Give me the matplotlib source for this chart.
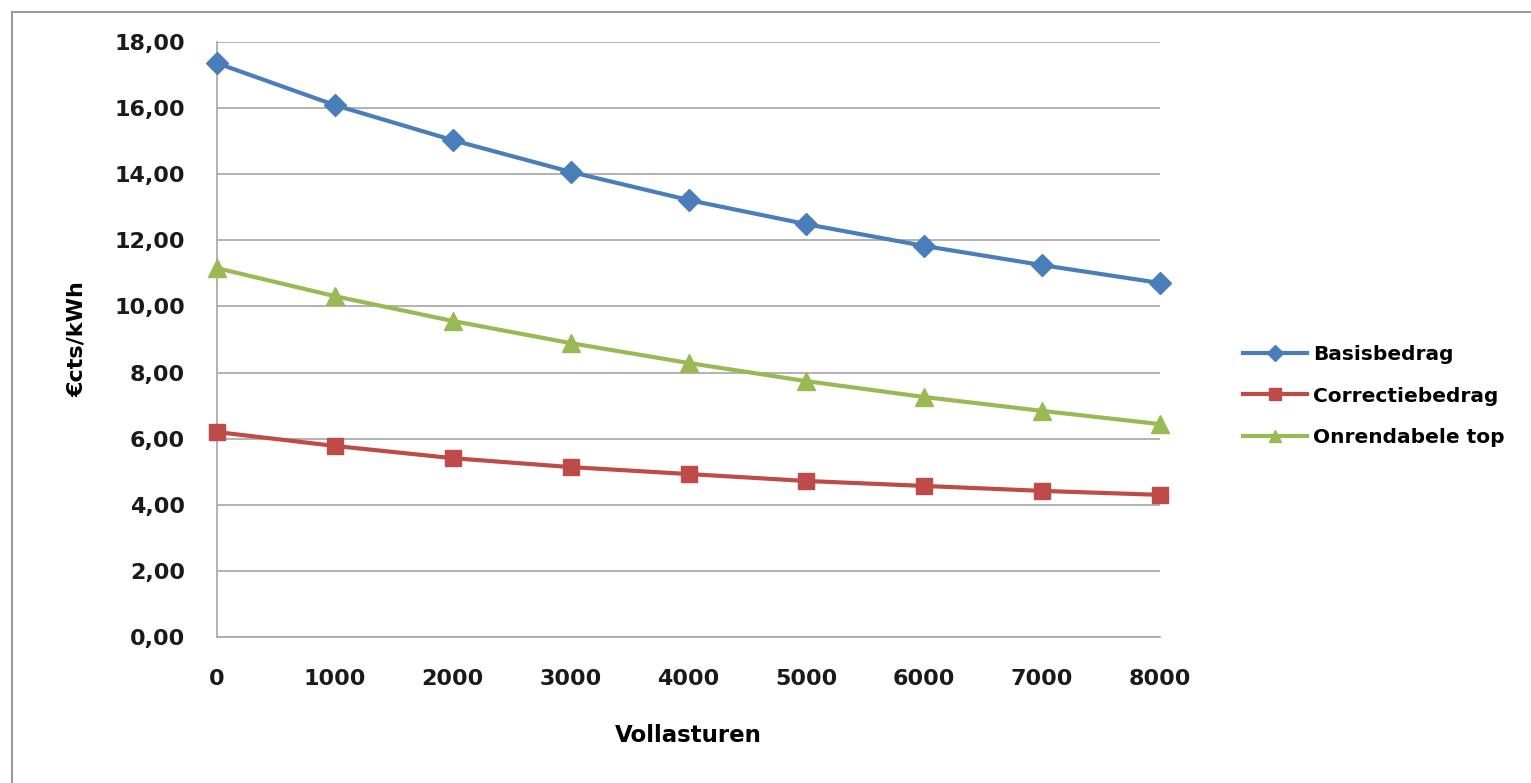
import matplotlib
matplotlib.use('Agg')
import matplotlib.pyplot as plt
from matplotlib.patches import Rectangle
from matplotlib.ticker import FuncFormatter

# values
vollasturen     = [0, 1000, 2000, 3000, 4000, 5000, 6000, 7000, 8000]
basisbedrag     = [17.36, 16.09, 15.03, 14.07, 13.22, 12.49, 11.83, 11.25, 10.71]
correctiebedrag = [6.20, 5.78, 5.41, 5.14, 4.93, 4.72, 4.57, 4.42, 4.30]
onrendabele_top = [11.16, 10.31, 9.56, 8.89, 8.29, 7.74, 7.26, 6.84, 6.44]
y_ticks         = [0, 2, 4, 6, 8, 10, 12, 14, 16, 18]

plt.rcParams['font.family'] = ['DejaVu Sans']
plt.rcParams['font.weight'] = 'bold'
FS = 16

fig = plt.figure(figsize=(15.31, 7.83), dpi=100)
fig.patches.append(Rectangle((12 / 1531, -0.1), 1.2, 1 - 12 / 783 + 0.1,
                             transform=fig.transFigure, fill=False,
                             edgecolor='#9a9a9a', lw=1.5))

ax = fig.add_axes([217 / 1531, 1 - 637 / 783, (1160 - 217) / 1531, (637 - 42) / 783])

ax.plot(vollasturen, basisbedrag, color='#4A7EBB', lw=3, marker='D', ms=11,
        label='Basisbedrag', clip_on=False, zorder=3)
ax.plot(vollasturen, correctiebedrag, color='#BE4B48', lw=3, marker='s', ms=12,
        label='Correctiebedrag', clip_on=False, zorder=3)
ax.plot(vollasturen, onrendabele_top, color='#98B954', lw=3, marker='^', ms=13,
        label='Onrendabele top', clip_on=False, zorder=3)

ax.set_xlim(0, 8000)
ax.set_ylim(0, 18)
ax.set_xticks(vollasturen)
ax.set_yticks(y_ticks)
ax.yaxis.set_major_formatter(FuncFormatter(lambda v, p: f'{v:.2f}'.replace('.', ',')))
ax.grid(axis='y', color='#a6a6a6', lw=1.2)
ax.set_axisbelow(True)
for s in ['top', 'right']:
    ax.spines[s].set_visible(False)
for s in ['left', 'bottom']:
    ax.spines[s].set_color('#a6a6a6')
    ax.spines[s].set_linewidth(1.2)
ax.tick_params(length=0, labelsize=FS, colors='#1a1a1a')
ax.tick_params(axis='x', pad=23)
ax.tick_params(axis='y', pad=23)

ax.set_xlabel('Vollasturen', fontsize=16.5, fontweight='bold', labelpad=25)
ax.set_ylabel('€cts/kWh', fontsize=FS, fontweight='bold', labelpad=20)

ax.legend(loc='center left', bbox_to_anchor=(1.088, 0.405), frameon=False,
          prop={'weight': 'bold', 'size': 14.5}, handlelength=3.2,
          handletextpad=0.3, labelspacing=1.1, markerscale=0.7,
          borderpad=0, borderaxespad=0)

fig.savefig('out.png', dpi=100)
